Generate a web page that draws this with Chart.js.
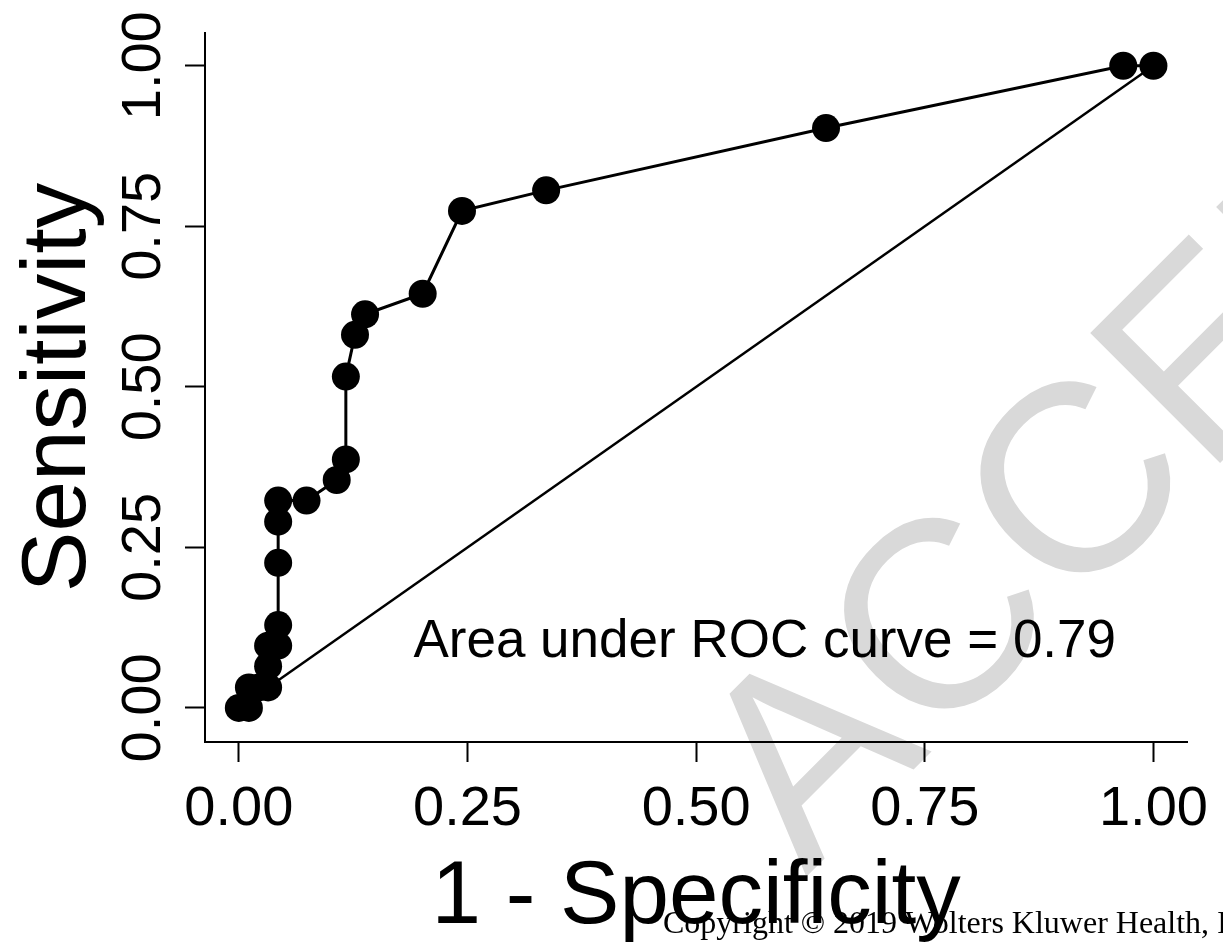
<!DOCTYPE html>
<html>
<head>
<meta charset="utf-8">
<script src="https://cdn.jsdelivr.net/npm/chart.js@4.4.0/dist/chart.umd.min.js"></script>
<style>
  html, body { margin: 0; padding: 0; background: #fff; }
  #wrap { width: 1223px; height: 943px; position: relative; }
</style>
</head>
<body>
<div id="wrap"><canvas id="roc"></canvas></div>
<script>
// ROC points: x = 1 - specificity, y = sensitivity
const fpr = [0, 0.011, 0.011, 0.022, 0.032, 0.032, 0.032, 0.043, 0.043, 0.043, 0.043, 0.043,
             0.074, 0.107, 0.117, 0.117, 0.127, 0.138, 0.201, 0.244, 0.336, 0.642, 0.967, 1];
const tpr = [0, 0, 0.032, 0.032, 0.032, 0.065, 0.097, 0.097, 0.129, 0.226, 0.290, 0.323,
             0.323, 0.355, 0.387, 0.516, 0.581, 0.613, 0.645, 0.774, 0.806, 0.903, 1, 1];

// chance line
const refX = [0, 1];
const refY = [0, 1];

const tickValues = [0, 0.25, 0.5, 0.75, 1];
const tickLabels = ['0.00', '0.25', '0.50', '0.75', '1.00'];

const aucText = 'Area under ROC curve = 0.79';
const aucX = 0.575;
const aucY = 0.08;

const FONT = "'Liberation Sans', Arial, sans-serif";

function setTicks(scale) {
    scale.ticks = tickValues.map(v => ({ value: v }));
}

function tickLabel(value) {
    const i = tickValues.indexOf(value);
    return i >= 0 ? tickLabels[i] : '';
}

// "ACCEPTED" watermark sits under the plot
const watermarkPlugin = {
    id: 'watermark',
    beforeDraw(chart) {
        const ctx = chart.ctx;
        ctx.save();
        ctx.translate(806, 877);
        ctx.rotate(-45 * Math.PI / 180);
        ctx.fillStyle = '#d9d9d9';
        ctx.font = '267px ' + FONT;
        ctx.textAlign = 'left';
        ctx.textBaseline = 'alphabetic';
        ctx.fillText('ACCEPTED', 0, 0);
        ctx.restore();
    }
};

// AUC annotation and copyright line
const overlayPlugin = {
    id: 'overlay',
    afterDraw(chart) {
        const ctx = chart.ctx;
        const xs = chart.scales.x;
        const ys = chart.scales.y;

        ctx.save();
        ctx.fillStyle = '#000';
        ctx.font = '53px ' + FONT;
        ctx.textAlign = 'center';
        ctx.textBaseline = 'alphabetic';
        ctx.fillText(aucText, xs.getPixelForValue(aucX), ys.getPixelForValue(aucY));
        ctx.restore();

        ctx.save();
        ctx.fillStyle = '#000';
        ctx.font = "32px 'Liberation Serif', 'Times New Roman', serif";
        ctx.textAlign = 'left';
        ctx.textBaseline = 'alphabetic';
        ctx.fillText('Copyright \u00A9 2019 Wolters Kluwer Health, Inc. All rights reserved.', 663, 933);
        ctx.restore();
    }
};

new Chart(document.getElementById('roc'), {
    type: 'scatter',
    data: {
        datasets: [{
            label: 'ROC',
            data: fpr.map((x, i) => ({ x: x, y: tpr[i] })),
            showLine: true,
            borderColor: '#000',
            borderWidth: 3,
            backgroundColor: '#000',
            pointRadius: 14,
            pointBorderWidth: 0,
            pointBackgroundColor: '#000',
            tension: 0
        }, {
            label: 'Chance',
            data: refX.map((x, i) => ({ x: x, y: refY[i] })),
            showLine: true,
            borderColor: '#000',
            borderWidth: 2.5,
            pointRadius: 0,
            tension: 0
        }]
    },
    options: {
        responsive: true,
        maintainAspectRatio: false,
        animation: false,
        layout: {
            padding: { top: 33, right: 31, left: 0, bottom: 0 }
        },
        plugins: {
            legend: { display: false },
            tooltip: { enabled: false }
        },
        scales: {
            x: {
                type: 'linear',
                min: -0.037,
                max: 1.037,
                afterBuildTicks: setTicks,
                afterFit: function (scale) { scale.height = 201; },
                grid: {
                    drawOnChartArea: false,
                    drawTicks: true,
                    tickLength: 20,
                    tickColor: '#000',
                    tickWidth: 2
                },
                border: { display: true, color: '#000', width: 2 },
                ticks: {
                    color: '#000',
                    font: { family: FONT, size: 56 },
                    padding: 14,
                    maxRotation: 0,
                    callback: tickLabel
                },
                title: {
                    display: true,
                    text: '1 - Specificity',
                    color: '#000',
                    font: { family: FONT, size: 89, lineHeight: 1 },
                    padding: { top: 0, bottom: 0 }
                }
            },
            y: {
                type: 'linear',
                min: -0.053,
                max: 1.051,
                afterBuildTicks: setTicks,
                afterFit: function (scale) { scale.width = 205; },
                grid: {
                    drawOnChartArea: false,
                    drawTicks: true,
                    tickLength: 20,
                    tickColor: '#000',
                    tickWidth: 2
                },
                border: { display: true, color: '#000', width: 2 },
                ticks: {
                    color: '#000',
                    font: { family: FONT, size: 56 },
                    padding: -14,
                    minRotation: 90,
                    maxRotation: 90,
                    crossAlign: 'center',
                    callback: tickLabel
                },
                title: {
                    display: true,
                    text: 'Sensitivity',
                    color: '#000',
                    font: { family: FONT, size: 91, lineHeight: 1 },
                    padding: { top: 14, bottom: 0 }
                }
            }
        }
    },
    plugins: [watermarkPlugin, overlayPlugin]
});
</script>
</body>
</html>
